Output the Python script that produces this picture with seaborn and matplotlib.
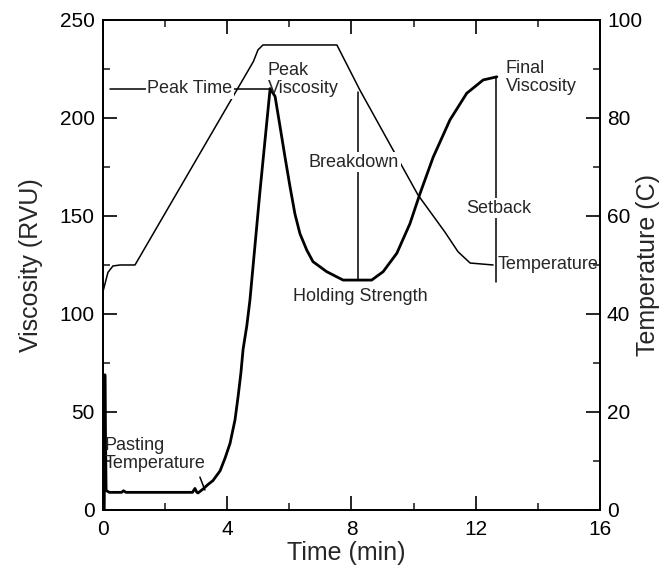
import numpy as np
import pandas as pd
import matplotlib
matplotlib.use("Agg")
import matplotlib.pyplot as plt
import seaborn as sns

# ---------------- data ----------------
visc_time = [0.04, 0.06, 0.10, 0.20, 0.60, 0.66, 0.74, 2.88, 2.96, 3.02, 3.06,
             3.22, 3.38, 3.54, 3.77, 3.93, 4.09, 4.25, 4.35, 4.44, 4.51, 4.63,
             4.73, 5.05, 5.38, 5.54, 5.70, 5.86, 6.02, 6.18, 6.34, 6.56, 6.76,
             7.20, 7.73, 8.65, 9.02, 9.46, 9.88, 10.21, 10.63, 11.17, 11.71,
             12.24, 12.68]
visc_rvu = [0, 69, 10, 9, 9, 9.8, 9, 9, 11, 9, 8.7,
            10.7, 13, 15, 20, 26.5, 34, 46, 58, 70, 82, 94,
            107, 162, 215, 211, 195.6, 180, 165, 151, 141, 132.6, 126.7,
            121.6, 117.3, 117.3, 121.6, 131, 146, 161.6, 180, 199, 212.6,
            219.4, 221]

temp_time = [0.0, 0.16, 0.32, 0.55, 1.03, 4.84, 4.99, 5.15, 7.53, 8.27,
             10.14, 11.01, 11.43, 11.82, 12.56]
temp_c = [44.6, 48.5, 49.8, 50, 50, 91.5, 93.9, 94.9, 94.9, 85.7,
          64.3, 56.7, 52.7, 50.4, 50]

x_ticks = [0, 4, 8, 12, 16]
visc_ticks = [0, 50, 100, 150, 200, 250]
temp_ticks = [0, 20, 40, 60, 80, 100]

visc_df = pd.DataFrame({"Time": visc_time, "Viscosity": visc_rvu})
temp_df = pd.DataFrame({"Time": temp_time, "Temperature": temp_c})

# key RVA points derived from the curve
vt = np.array(visc_time)
vv = np.array(visc_rvu)
first_half = vt < 8
peak_idx = int(np.argmax(np.where(first_half, vv, -1)))
peak_visc = vv[peak_idx]
peak_time = vt[peak_idx]
holding = vv[peak_idx:].min()
final_visc = vv[-1]
final_time = vt[-1]
breakdown_time = 8.2
peak_line_start = 0.23

# ---------------- style ----------------
sns.set_theme(style="ticks")
plt.rcParams["font.family"] = ["Liberation Sans", "DejaVu Sans"]
plt.rcParams["xtick.direction"] = "in"
plt.rcParams["ytick.direction"] = "in"

fig = plt.figure(figsize=(6.62, 5.69), dpi=100)
ax = fig.add_axes([0.1556, 0.1037, 0.7507, 0.8612])
ax2 = ax.twinx()

sns.lineplot(data=visc_df, x="Time", y="Viscosity", ax=ax, color="black",
             linewidth=2.0, estimator=None, sort=False)
sns.lineplot(data=temp_df, x="Time", y="Temperature", ax=ax2, color="black",
             linewidth=1.1, estimator=None, sort=False)

ax.set_xlim(0, 16)
ax.set_ylim(0, 250)
ax2.set_ylim(0, 100)
ax.set_xticks(x_ticks)
ax.set_xticks([2, 6, 10, 14], minor=True)
ax.set_yticks(visc_ticks)
ax.set_yticks([25, 75, 125, 175, 225], minor=True)
ax2.set_yticks(temp_ticks)
ax2.set_yticks([10, 30, 50, 70, 90], minor=True)

for a in (ax, ax2):
    for s in a.spines.values():
        s.set_linewidth(1.3)
        s.set_color("black")

ax.tick_params(axis="both", which="major", length=10, width=1.2,
               labelsize=15, colors="black", top=True, right=False)
ax.tick_params(axis="both", which="minor", length=5, width=1.2,
               top=True, right=False)
ax.tick_params(axis="y", which="major", pad=6)
ax.tick_params(axis="x", which="major", pad=7)
ax2.tick_params(axis="y", which="major", length=10, width=1.2,
                labelsize=15, colors="black", pad=5)
ax2.tick_params(axis="y", which="minor", length=5, width=1.2)

ax.set_xlabel("Time (min)", fontsize=18)
ax.set_ylabel("Viscosity (RVU)", fontsize=18)
ax2.set_ylabel("Temperature (C)", fontsize=18)
ax.xaxis.set_label_coords(0.49, -0.063)
ax.yaxis.set_label_coords(-0.121, 0.5)
ax2.yaxis.set_label_coords(1.072, 0.5)

# ---------------- annotations (drawn on top axes, in viscosity coords) ----------------
tr = ax.transData
fs = 13
white = dict(facecolor="white", edgecolor="none", pad=1.0)

ax2.plot([peak_line_start, peak_time], [peak_visc, peak_visc], color="black",
         linewidth=1.1, transform=tr)
ax2.text(2.8, peak_visc, "Peak Time", transform=tr, fontsize=fs,
         ha="center", va="center", bbox=white, zorder=5)

ax2.plot([breakdown_time, breakdown_time], [holding, peak_visc - 2],
         color="black", linewidth=1.1, transform=tr)
ax2.text(8.08, 177.5, "Breakdown", transform=tr, fontsize=fs,
         ha="center", va="center", bbox=white, zorder=5)

ax2.plot([final_time - 0.03, final_time - 0.03], [holding - 1, final_visc],
         color="black", linewidth=1.1, transform=tr)
ax2.text(12.73, 154, "Setback", transform=tr, fontsize=fs,
         ha="center", va="center", bbox=white, zorder=5)

ax2.text(5.31, 219.5, "Peak\nViscosity", transform=tr, fontsize=fs,
         ha="left", va="center", linespacing=1.1)
ax2.text(12.97, 220.5, "Final\nViscosity", transform=tr, fontsize=fs,
         ha="left", va="center", linespacing=1.1)
ax2.text(8.27, 108.7, "Holding Strength", transform=tr, fontsize=fs,
         ha="center", va="center")
ax2.text(12.72, 125, "Temperature", transform=tr, fontsize=fs,
         ha="left", va="center")
ax2.text(0.06, 28.3, "Pasting\nTemperature", transform=tr, fontsize=fs,
         ha="left", va="center", linespacing=1.1)
ax2.plot([3.12, 3.28], [16.8, 10.2], color="black", linewidth=1.1, transform=tr)

fig.savefig("out.png", dpi=100)
